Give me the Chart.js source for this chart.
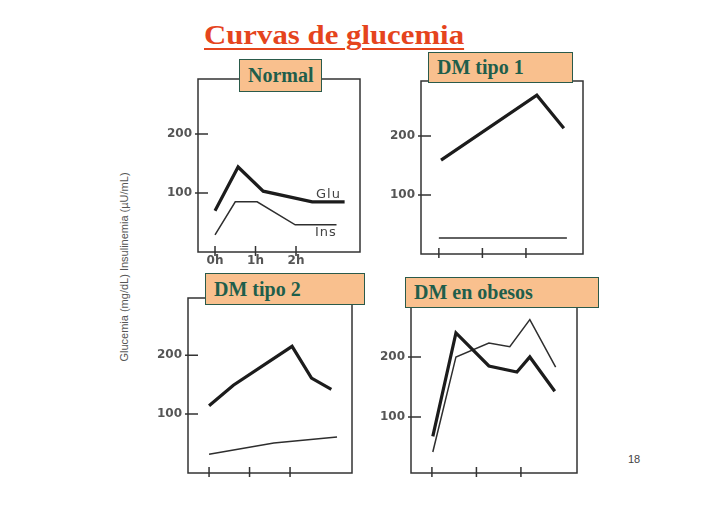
<!DOCTYPE html>
<html>
<head>
<meta charset="utf-8">
<script src="https://cdn.jsdelivr.net/npm/chart.js@4"></script>
<style>
  body { margin: 0; background: #fff; }
  #page { position: relative; width: 728px; height: 515px; overflow: hidden; }
  .panel { position: absolute; }
  .tag {
    position: absolute; box-sizing: border-box; background: #f9c08e;
    border: 1.5px solid #2a5a4a; color: #1f5e4b;
    font: bold 20px "Liberation Serif", serif; padding-left: 8px; z-index: 2;
  }
  .note { position: absolute; font: 13px "DejaVu Sans", sans-serif; color: #444; letter-spacing: 1px; }
</style>
</head>
<body>
<div id="page">
  <div style="position:absolute;left:204px;top:19px;transform:scaleX(1.1);transform-origin:left;font:bold 28px 'Liberation Serif',serif;color:#e5441d;text-decoration:underline;text-decoration-thickness:2px;text-underline-offset:4px;">Curvas de glucemia</div>

  <div style="position:absolute;left:124px;top:267px;transform:translate(-50%,-50%) rotate(-90deg);white-space:nowrap;font:11px 'Liberation Sans',sans-serif;color:#555;">Glucemia (mg/dL) Insulinemia (µU/mL)</div>

  <div class="panel" id="p1"><canvas id="c1"></canvas></div>
  <div class="panel" id="p2"><canvas id="c2"></canvas></div>
  <div class="panel" id="p3"><canvas id="c3"></canvas></div>
  <div class="panel" id="p4"><canvas id="c4"></canvas></div>

  <div class="tag" style="left:239px;top:59px;width:83px;height:33px;line-height:31px;">Normal</div>
  <div class="tag" style="left:428px;top:52px;width:145px;height:31px;line-height:29px;">DM tipo 1</div>
  <div class="tag" style="left:205px;top:273px;width:160px;height:32px;line-height:30px;">DM tipo 2</div>
  <div class="tag" style="left:405px;top:277px;width:194px;height:31px;line-height:29px;">DM en obesos</div>

  <div class="note" style="left:316px;top:186px;">Glu</div>
  <div class="note" style="left:315px;top:224px;">Ins</div>
  <div style="position:absolute;left:628px;top:453px;font:11px 'Liberation Sans',sans-serif;color:#444;">18</div>
</div>

<script>
// hours after glucose load, and values (mg/dL or µU/mL)
let xTicks = [0, 1, 2];
let yTicks = [100, 200];

let normalGluT = [0, 0.57, 1.19, 2.4, 3.2];
let normalGlu = [70, 144, 103, 85, 85];
let normalInsT = [0, 0.5, 1.04, 1.98, 3.0];
let normalIns = [29, 85, 85, 46, 46];

let tipo1GluT = [0.05, 2.25, 2.87];
let tipo1Glu = [159, 269, 213];
let tipo1InsT = [0, 2.94];
let tipo1Ins = [27, 27];

let tipo2GluT = [0, 0.6, 2.05, 2.53, 3.02];
let tipo2Glu = [114, 149, 215, 161, 142];
let tipo2InsT = [0, 1.6, 3.16];
let tipo2Ins = [32, 51, 61];

let obesosGluT = [0.02, 0.54, 1.28, 1.91, 2.2, 2.76];
let obesosGlu = [68, 240, 185, 175, 200, 143];
let obesosInsT = [0.02, 0.54, 1.28, 1.75, 2.2, 2.78];
let obesosIns = [42, 200, 223, 217, 262, 183];

const YW = 45, XH = 25, PAD = 4;

// box around the plot + tick marks crossing it
const frame = {
  id: "frame",
  beforeDatasetsDraw(chart) {
    const { ctx, chartArea: a, scales: { x, y } } = chart;
    ctx.save();
    ctx.strokeStyle = "#333";
    ctx.lineWidth = 1.5;
    ctx.strokeRect(a.left, a.top, a.right - a.left, a.bottom - a.top);
    ctx.beginPath();
    y.ticks.forEach((t) => {
      let py = y.getPixelForValue(t.value);
      ctx.moveTo(a.left - 3, py);
      ctx.lineTo(a.left + 10, py);
    });
    x.ticks.forEach((t) => {
      let px = x.getPixelForValue(t.value);
      ctx.moveTo(px, a.bottom - 6);
      ctx.lineTo(px, a.bottom + 4);
    });
    ctx.stroke();
    ctx.restore();
  },
};

function pts(t, v) {
  return t.map((x, i) => ({ x: x, y: v[i] }));
}

function makePanel(id, box, range, thick, thin, showHours) {
  let div = document.getElementById("p" + id);
  div.style.left = box[0] - YW - PAD + "px";
  div.style.top = box[1] - PAD + "px";
  div.style.width = box[2] - box[0] + YW + 2 * PAD + "px";
  div.style.height = box[3] - box[1] + XH + 2 * PAD + "px";

  new Chart(document.getElementById("c" + id), {
    type: "line",
    data: {
      datasets: [
        { data: thick, borderColor: "#1c1c1c", borderWidth: 3.2, pointRadius: 0, tension: 0 },
        { data: thin, borderColor: "#2e2e2e", borderWidth: 1.5, pointRadius: 0, tension: 0 },
      ],
    },
    options: {
      responsive: true,
      maintainAspectRatio: false,
      animation: false,
      layout: { padding: PAD },
      scales: {
        x: {
          type: "linear",
          min: range[0],
          max: range[1],
          grid: { display: false, drawTicks: false },
          border: { display: false },
          afterBuildTicks: (s) => { s.ticks = xTicks.map((v) => ({ value: v })); },
          afterFit: (s) => { s.height = XH; s.paddingLeft = 0; s.paddingRight = 0; },
          ticks: {
            display: showHours,
            padding: 2,
            color: "#555",
            font: { family: "DejaVu Sans", size: 12, weight: "bold" },
            callback: (v) => v + "h",
          },
        },
        y: {
          min: range[2],
          max: range[3],
          grid: { display: false, drawTicks: false },
          border: { display: false },
          afterBuildTicks: (s) => { s.ticks = yTicks.map((v) => ({ value: v })); },
          afterFit: (s) => { s.width = YW; s.paddingTop = 0; s.paddingBottom = 0; },
          ticks: {
            padding: 6,
            color: "#555",
            font: { family: "DejaVu Sans", size: 12, weight: "bold" },
          },
        },
      },
      plugins: {
        legend: { display: false },
        tooltip: { enabled: false },
      },
    },
    plugins: [frame],
  });
}

makePanel(1, [198, 79, 360, 252], [-0.42, 3.58, 0, 293], pts(normalGluT, normalGlu), pts(normalInsT, normalIns), true);
makePanel(2, [421, 81, 583, 254], [-0.41, 3.31, 0, 293], pts(tipo1GluT, tipo1Glu), pts(tipo1InsT, tipo1Ins), false);
makePanel(3, [188, 298, 352, 473], [-0.52, 3.53, 0, 297], pts(tipo2GluT, tipo2Glu), pts(tipo2InsT, tipo2Ins), false);
makePanel(4, [411, 295, 577, 473], [-0.47, 3.26, 7, 303], pts(obesosGluT, obesosGlu), pts(obesosInsT, obesosIns), false);
</script>
</body>
</html>
